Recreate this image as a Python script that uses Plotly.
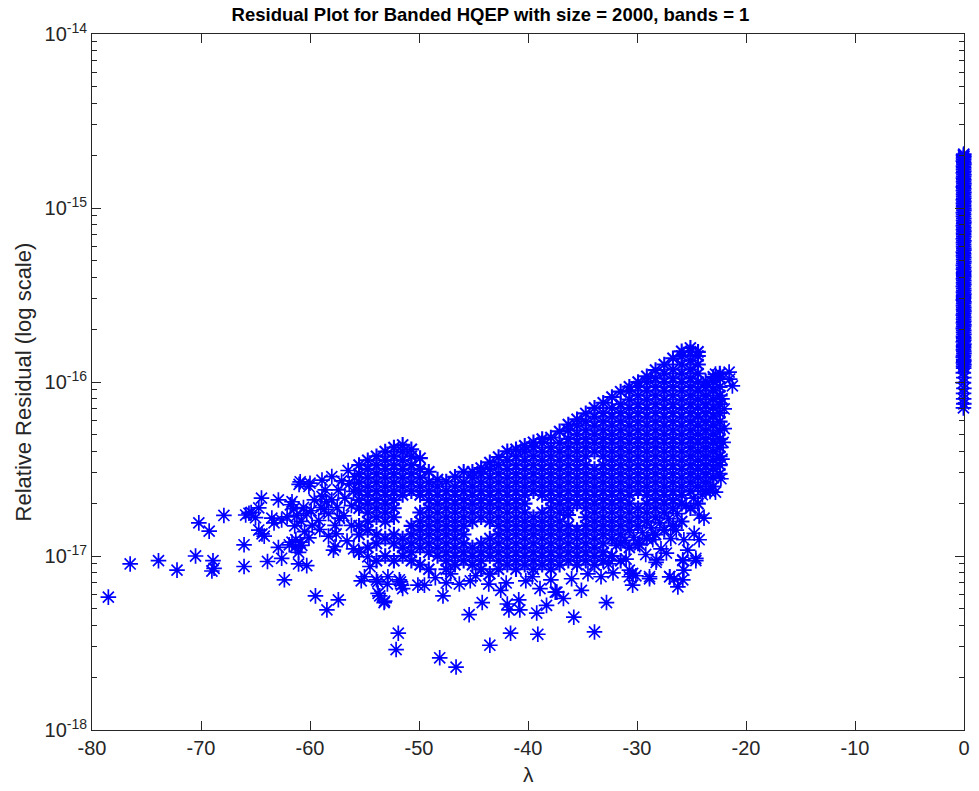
import plotly.graph_objects as go

# ---------------- data (residuals given in units of 1e-18) ----------------
UNIT = 1e-18

# individual / sparse eigenvalues (left tail, lower outliers, right edge)
sparse_lam = [
    -78.5, -76.5, -73.9, -72.2, -70.5, -70.2, -69.25, -68.9, -69.0, -68.8, -67.9,
    -66.05, -66.05, -65.9, -65.6, -65.4, -65.0, -64.7, -64.45, -64.7, -64.4, -64.2,
    -63.9, -63.5, -63.3, -62.9, -62.9, -62.6, -62.6, -62.35, -62.1, -61.8, -61.65,
    -61.5, -61.2, -61.0, -60.9, -60.1, -60.0, -61.65, -61.35, -61.05, -60.75, -60.1,
    -61.05, -60.3, -59.5, -58.45, -57.4, -60.6, -60.3, -60.8, -61.4, -60.5, -61.9,
    -61.3, -60.9, -59.9, -59.6, -59.8,
    -59.2, -59.0, -58.9, -58.9, -58.6, -58.3, -58.0, -58.0, -57.7, -57.5, -57.4,
    -57.1, -56.9, -56.8, -56.5, -56.4, -56.2, -57.7, -57.85, -59.1, -58.3, -56.6,
    -56.0, -58.7, -57.3, -56.2, -56.0, -55.9, -57.6, -58.5,
    -55.3, -55.0, -53.8, -52.9, -53.6, -53.2, -51.9, -52.1, -51.7, -51.5, -50.1,
    -49.5, -48.1, -46.6, -47.8, -47.1, -46.3, -45.3, -44.8, -45.4, -44.2, -43.5,
    -43.6, -42.5, -41.9, -41.75, -40.85, -40.75, -41.6, -39.2, -39.1, -38.9, -38.3,
    -37.5, -36.75, -36.0, -35.8, -35.1, -33.9, -32.8, -30.4, -30.1, -30.7, -28.85,
    -28.25, -27.0, -26.6, -26.25, -25.8, -25.7, -24.6, -37.35, -54.7, -54.5, -53.9,
    -52.85, -51.8, -51.6, -53.75, -53.15, -48.5, -47.5, -42.0, -40.2, -39.6, -37.9,
    -34.5, -33.3, -32.2,
    -24.3, -23.85, -24.75, -24.3, -25.7, -26.4, -25.35, -25.8, -24.6, -28.2, -27.3,
    -29.75, -28.55, -30.4, -30.7, -28.85, -27.0, -25.8, -27.8, -26.9, -31.0, -29.2,
    -32.6,
    -31.9, -31.1, -30.3, -29.5, -28.7, -27.9, -27.1, -26.3, -25.5, -24.8, -24.0,
    -23.3,
    -22.3, -22.2, -22.0, -22.2, -21.25, -21.55, -22.8, -21.5, -22.0, -22.1, -22.8,
]
sparse_res = [
    5.8, 9.0, 9.4, 8.3, 10.0, 15.5, 13.9, 9.4, 8.2, 8.5, 17.1,
    11.6, 8.7, 17.2, 17.6, 17.8, 16.6, 18.9, 21.5, 14.1, 13.4, 13.0,
    9.3, 16.5, 15.5, 21.0, 11.2, 16.1, 9.7, 7.3, 16.8, 19.7, 20.5,
    18.7, 17.1, 25.8, 26.7, 25.1, 26.2, 12.0, 11.3, 10.5, 11.5, 12.7,
    9.0, 8.8, 5.9, 4.9, 5.6, 19.0, 17.5, 15.8, 14.9, 13.8, 11.6,
    12.4, 12.0, 18.2, 21.0, 15.0,
    16.0, 19.0, 22.0, 27.3, 24.0, 17.5, 28.6, 21.0, 15.0, 19.0, 24.0,
    27.0, 17.0, 21.5, 31.0, 26.0, 15.0, 11.3, 10.8, 14.2, 13.0, 12.2,
    11.0, 18.5, 16.5, 19.5, 23.5, 28.5, 13.4, 20.5,
    7.2, 7.6, 7.1, 6.9, 5.9, 5.4, 3.6, 2.9, 7.1, 6.5, 6.8,
    6.8, 2.6, 2.3, 5.9, 7.9, 6.9, 7.2, 7.7, 4.6, 5.4, 3.07,
    6.9, 6.35, 5.3, 4.9, 5.6, 4.9, 3.6, 4.7, 3.55, 6.5, 5.2,
    6.2, 5.7, 7.4, 4.45, 6.35, 3.66, 5.4, 6.8, 7.7, 7.6, 7.4,
    9.2, 7.6, 7.4, 6.65, 9.4, 8.3, 9.4, 6.2, 9.9, 8.7, 7.3,
    7.6, 7.3, 6.8, 6.1, 5.5, 7.5, 7.0, 7.0, 7.2, 7.6, 7.3,
    7.9, 7.6, 8.0,
    17.2, 16.5, 13.5, 12.4, 12.4, 14.1, 10.8, 9.5, 9.7, 9.5, 10.4,
    11.6, 12.4, 7.95, 8.3, 7.6, 7.6, 7.3, 11.0, 12.6, 9.6, 10.2,
    9.0,
    11.5, 12.3, 12.8, 13.6, 14.5, 15.5, 16.4, 17.5, 19.5, 21.5, 22.5,
    23.5,
    27.8, 36.0, 54.0, 80.0, 95.0, 114.0, 111.0, 104.0, 70.0, 45.0, 23.3,
]

# dense part of the cloud: eigenvalue columns and their residuals
dense_lam = [-55.5, -54.7, -53.9, -53.1, -52.3, -51.5, -50.7, -49.9, -49.1, -48.3,
             -47.5, -46.7, -45.9, -45.1, -44.3, -43.5, -42.7, -41.9, -41.1, -40.3,
             -39.5, -38.7, -37.9, -37.1, -36.3, -35.5, -34.7, -33.9, -33.1, -32.3,
             -31.5, -30.7, -29.9, -29.1, -28.3, -27.5, -26.7, -25.9, -25.1, -24.4,
             -23.7, -23.0, -22.4]
dense_res = [
    [10.5, 13.3, 14.9, 18.8, 21.0, 23.6, 26.5, 29.7, 33.3],
    [11.2, 14.1, 15.8, 17.8, 20.0, 22.4, 25.1, 28.2, 31.6, 35.5],
    [9.4, 11.8, 13.3, 16.7, 18.8, 21.0, 23.6, 26.5, 29.7, 33.3, 37.4],
    [10.0, 12.6, 15.8, 17.8, 20.0, 22.4, 25.1, 28.2, 31.6, 35.5, 39.8],
    [9.4, 11.8, 13.3, 16.7, 18.8, 21.0, 23.6, 26.5, 29.7, 33.3, 37.4, 42.0],
    [10.0, 11.2, 12.6, 22.4, 25.1, 28.2, 31.6, 35.5, 39.8, 43.5],
    [9.4, 10.5, 11.8, 13.3, 14.9, 23.6, 26.5, 29.7, 33.3, 37.4, 41.0],
    [8.9, 11.2, 12.6, 14.1, 15.8, 17.8, 22.4, 25.1, 28.2, 31.6, 36.5],
    [8.4, 10.5, 11.8, 13.3, 14.9, 16.7, 18.8, 21.0, 23.6, 26.5, 30.5],
    [10.0, 11.2, 12.6, 14.1, 15.8, 17.8, 20.0, 22.4, 25.1, 27.5],
    [8.4, 9.4, 10.5, 11.8, 13.3, 14.9, 16.7, 18.8, 21.0, 23.6, 26.8],
    [8.9, 10.0, 11.2, 12.6, 14.1, 15.8, 17.8, 20.0, 22.4, 25.1, 28.5],
    [9.4, 10.5, 11.8, 13.3, 14.9, 16.7, 18.8, 21.0, 23.6, 26.5, 30.5],
    [8.9, 10.0, 11.2, 15.8, 17.8, 20.0, 22.4, 25.1, 28.2, 30.5],
    [8.4, 9.4, 10.5, 11.8, 16.7, 18.8, 21.0, 23.6, 26.5, 29.7, 32.0],
    [7.9, 10.0, 11.2, 12.6, 15.8, 17.8, 20.0, 22.4, 25.1, 28.2, 31.6, 34.5],
    [8.4, 9.4, 10.5, 11.8, 13.3, 14.9, 16.7, 18.8, 21.0, 23.6, 26.5, 29.7, 33.3, 37.0],
    [8.9, 10.0, 11.2, 12.6, 14.1, 15.8, 17.8, 20.0, 22.4, 25.1, 28.2, 31.6, 35.5, 40.0],
    [8.4, 9.4, 10.5, 11.8, 13.3, 14.9, 16.7, 18.8, 21.0, 23.6, 26.5, 29.7, 33.3, 37.4, 41.0],
    [8.9, 10.0, 11.2, 12.6, 14.1, 15.8, 17.8, 20.0, 22.4, 25.1, 28.2, 31.6, 35.5, 39.8, 43.0],
    [8.4, 9.4, 10.5, 11.8, 13.3, 14.9, 16.7, 23.6, 26.5, 29.7, 33.3, 37.4, 42.0, 45.0],
    [8.9, 10.0, 11.2, 12.6, 14.1, 15.8, 17.8, 22.4, 25.1, 28.2, 31.6, 35.5, 39.8, 44.7, 47.0],
    [8.4, 9.4, 10.5, 11.8, 13.3, 14.9, 16.7, 18.8, 21.0, 23.6, 26.5, 29.7, 33.3, 37.4, 42.0, 48.0],
    [8.9, 10.0, 11.2, 12.6, 14.1, 15.8, 17.8, 20.0, 22.4, 25.1, 28.2, 31.6, 35.5, 39.8, 44.7, 52.0],
    [9.4, 10.5, 11.8, 13.3, 14.9, 17.2, 18.8, 21.0, 23.6, 26.5, 29.7, 33.3, 37.4, 42.0, 47.1, 52.8, 57.0],
    [8.9, 10.0, 11.2, 12.6, 14.1, 20.0, 22.4, 25.1, 28.2, 31.6, 35.5, 39.8, 44.7, 50.1, 56.2, 61.0],
    [9.4, 10.5, 11.8, 13.3, 14.9, 16.7, 18.8, 21.0, 23.6, 26.5, 29.7, 33.3, 37.4, 42.0, 47.1, 52.8, 59.2, 66.0],
    [8.9, 10.0, 11.2, 12.6, 14.1, 15.8, 17.8, 20.0, 22.4, 25.1, 28.2, 31.6, 39.8, 44.7, 50.1, 56.2, 63.1, 71.0],
    [9.4, 10.5, 11.8, 13.3, 14.9, 16.7, 18.8, 21.0, 23.6, 26.5, 29.7, 33.3, 37.4, 42.0, 47.1, 52.8, 59.2, 66.4, 76.0],
    [10.0, 12.6, 14.1, 15.8, 17.8, 20.0, 22.4, 25.1, 28.2, 31.6, 35.5, 39.8, 44.7, 50.1, 56.2, 63.1, 70.8, 82.0],
    [9.4, 11.8, 13.3, 14.9, 16.7, 18.8, 21.0, 23.6, 26.5, 29.7, 33.3, 37.4, 42.0, 47.1, 52.8, 59.2, 66.4, 74.5, 88.0],
    [11.2, 14.1, 15.8, 17.8, 20.0, 22.4, 25.1, 28.2, 31.6, 35.5, 39.8, 44.7, 50.1, 56.2, 63.1, 70.8, 79.4, 89.1, 94.0],
    [11.8, 14.9, 16.7, 18.8, 23.6, 26.5, 29.7, 33.3, 37.4, 42.0, 47.1, 52.8, 59.2, 66.4, 74.5, 83.6, 93.8, 100.0],
    [12.6, 15.8, 17.8, 20.0, 22.4, 25.1, 28.2, 31.6, 35.5, 39.8, 44.7, 50.1, 56.2, 63.1, 70.8, 79.4, 89.1, 100.0, 108.0],
    [13.3, 16.7, 18.8, 21.0, 23.6, 26.5, 29.7, 33.3, 37.4, 42.0, 47.1, 52.8, 59.2, 66.4, 74.5, 83.6, 93.8, 105.0, 117.0],
    [14.1, 17.8, 20.0, 22.4, 25.1, 28.2, 31.6, 35.5, 39.8, 44.7, 50.1, 56.2, 63.1, 70.8, 79.4, 89.1, 100.0, 112.0, 126.0],
    [14.9, 18.8, 21.0, 23.6, 26.5, 29.7, 33.3, 37.4, 42.0, 47.1, 52.8, 59.2, 66.4, 74.5, 83.6, 93.8, 105.0, 118.0, 137.0],
    [15.8, 20.0, 22.4, 25.1, 28.2, 31.6, 35.5, 39.8, 44.7, 50.1, 56.2, 63.1, 70.8, 79.4, 89.1, 100.0, 112.0, 126.0, 141.0, 150.0],
    [18.8, 23.6, 26.5, 29.7, 33.3, 37.4, 42.0, 47.1, 52.8, 59.2, 66.4, 74.5, 83.6, 93.8, 105.0, 118.0, 133.0, 149.0, 157.0],
    [20.0, 25.1, 28.2, 31.6, 35.5, 39.8, 44.7, 50.1, 56.2, 63.1, 70.8, 79.4, 89.1, 100.0, 112.0, 126.0, 141.0, 149.0],
    [23.6, 26.5, 29.7, 33.3, 37.4, 42.0, 47.1, 52.8, 59.2, 66.4, 74.5, 83.6, 93.8, 101.0],
    [25.1, 28.2, 31.6, 35.5, 39.8, 44.7, 50.1, 56.2, 63.1, 70.8, 79.4, 89.1, 100.0, 107.0],
    [29.7, 33.3, 37.4, 42.0, 47.1, 52.8, 59.2, 66.4, 74.5, 83.6, 93.8, 105.0, 112.0],
]

# eigenvalues clustered at lambda ~ 0 (vertical band on the right)
band_lam = [-0.02, -0.05, -0.01, -0.04, -0.03, -0.06, -0.02, -0.01, -0.05, -0.03,
            -0.04, -0.02, -0.06, -0.01, -0.03, -0.05, -0.02, -0.04, -0.01, -0.03,
            -0.06, -0.02, -0.05, -0.01, -0.04, -0.03, -0.02, -0.06, -0.01, -0.05,
            -0.03, -0.04, -0.02, -0.01, -0.06, -0.03, -0.05, -0.02, -0.04, -0.01,
            -0.03, -0.06, -0.02, -0.05, -0.01, -0.04, -0.03, -0.02, -0.06, -0.01,
            -0.05, -0.03, -0.04, -0.02, -0.01, -0.06, -0.03, -0.05, -0.02, -0.04,
            -0.01, -0.03, -0.06, -0.02, -0.05, -0.01, -0.04, -0.03, -0.02, -0.05,
            -0.02, -0.04, -0.01, -0.06, -0.03, -0.02, -0.05, -0.01, -0.04, -0.03,
            -0.06, -0.01, -0.03, -0.05, -0.02, -0.04, -0.01, -0.03, -0.06, -0.02,
            -0.04, -0.02, -0.05, -0.01, -0.03, -0.06, -0.02, -0.04, -0.01, -0.05,
            -0.03, -0.02, -0.06, -0.01, -0.04, -0.03, -0.05, -0.02, -0.01, -0.04,
            -0.06, -0.03, -0.02, -0.05, -0.01, -0.04, -0.03, -0.06, -0.02, -0.05,
            -0.01, -0.04, -0.03, -0.02, -0.05]
band_res = [2040, 2010, 1980, 1940, 1900, 1860, 1820, 1780, 1740, 1700,
            1660, 1625, 1590, 1555, 1520, 1485, 1450, 1415, 1380, 1350,
            1320, 1290, 1260, 1230, 1200, 1170, 1140, 1115, 1090, 1065,
            1040, 1015, 990, 965, 940, 918, 895, 872, 850, 830,
            810, 790, 770, 752, 735, 718, 700, 682, 665, 648,
            632, 616, 600, 586, 572, 558, 545, 531, 518, 505,
            492, 480, 468, 456, 445, 434, 423, 412, 402, 392,
            382, 372, 363, 354, 345, 336, 328, 320, 312, 304,
            296, 289, 282, 275, 268, 261, 255, 248, 242, 236,
            230, 224, 219, 213, 208, 203, 198, 193, 188, 183,
            179, 174, 170, 165, 161, 157, 153, 150, 146, 142,
            139, 135, 132, 129, 126, 123, 120, 113, 106, 99,
            92, 86, 80, 75, 71]

x_ticks = [-80, -70, -60, -50, -40, -30, -20, -10, 0]
x_ticktext = ["-80", "-70", "-60", "-50", "-40", "-30", "-20", "-10", "0"]
y_exponents = [-18, -17, -16, -15, -14]

# ---------------- build ----------------
dense_x, dense_y = [], []
for lam_c, col in zip(dense_lam, dense_res):
    dense_x += [lam_c] * len(col)
    dense_y += [r * UNIT for r in col]
band_pairs = list(zip(band_lam, band_res))

AX = "#262626"
FONT = "Liberation Sans, Arial, Helvetica, sans-serif"
BLUE = "#0000FF"


def mk(width):
    return dict(symbol="asterisk-open", size=13, color=BLUE,
                line=dict(color=BLUE, width=width))


fig = go.Figure()
fig.add_trace(go.Scatter(x=dense_x, y=dense_y, mode="markers", cliponaxis=False,
                         marker=mk(2.1), hoverinfo="skip"))
fig.add_trace(go.Scatter(x=sparse_lam, y=[r * UNIT for r in sparse_res],
                         mode="markers", cliponaxis=False, marker=mk(1.7),
                         hoverinfo="skip"))
fig.add_trace(go.Scatter(x=[p[0] for p in band_pairs],
                         y=[p[1] * UNIT for p in band_pairs], mode="markers",
                         cliponaxis=False, marker=mk(1.8), hoverinfo="skip"))

minor_vals = [m * 10.0 ** e for e in range(-18, -14) for m in range(2, 10)]

L, R, T, B = 92, 970, 34, 730
W, H = 979, 791
fig.update_layout(
    width=W, height=H,
    margin=dict(l=L, r=W - R, t=T, b=H - B),
    paper_bgcolor="white", plot_bgcolor="white",
    showlegend=False,
    font=dict(family=FONT, size=20, color=AX),
    title=dict(text="<b>Residual Plot for Banded HQEP with size = 2000, bands = 1</b>",
               x=0.501, xref="container", xanchor="center",
               y=1 - 15 / H, yref="container", yanchor="middle",
               font=dict(family=FONT, size=18.5, color="black")),
)
fig.update_xaxes(
    range=[-80, 0], tickmode="array", tickvals=x_ticks, ticktext=x_ticktext,
    ticks="inside", ticklen=9, tickwidth=1, tickcolor=AX,
    showline=True, linecolor=AX, linewidth=1, mirror="ticks",
    showgrid=False, zeroline=False,
    tickfont=dict(family=FONT, size=20, color=AX),
)
fig.update_yaxes(
    type="log", range=[-18, -14], tickmode="array",
    tickvals=[10.0 ** e for e in y_exponents],
    ticktext=["10<sup>%d</sup>" % e for e in y_exponents],
    ticks="inside", ticklen=9, tickwidth=1, tickcolor=AX,
    showline=True, linecolor=AX, linewidth=1, mirror="ticks",
    showgrid=False, zeroline=False,
    minor=dict(tickmode="array", tickvals=minor_vals, ticks="inside",
               ticklen=5, tickwidth=1, tickcolor=AX, showgrid=False),
    tickfont=dict(family=FONT, size=20, color=AX),
)
fig.add_annotation(text="Relative Residual (log scale)", textangle=-90,
                   xref="paper", yref="paper", x=(23 - L) / (R - L), y=0.5,
                   xanchor="center", yanchor="middle", showarrow=False,
                   font=dict(family=FONT, size=22, color=AX))
fig.add_annotation(text="λ", xref="paper", yref="paper",
                   x=0.5, y=-(774 - B) / (B - T),
                   xanchor="center", yanchor="middle", showarrow=False,
                   font=dict(family=FONT, size=21, color=AX))

fig.write_html("out.html", config={"displayModeBar": False},
               post_script="document.body.style.margin='0px';")
